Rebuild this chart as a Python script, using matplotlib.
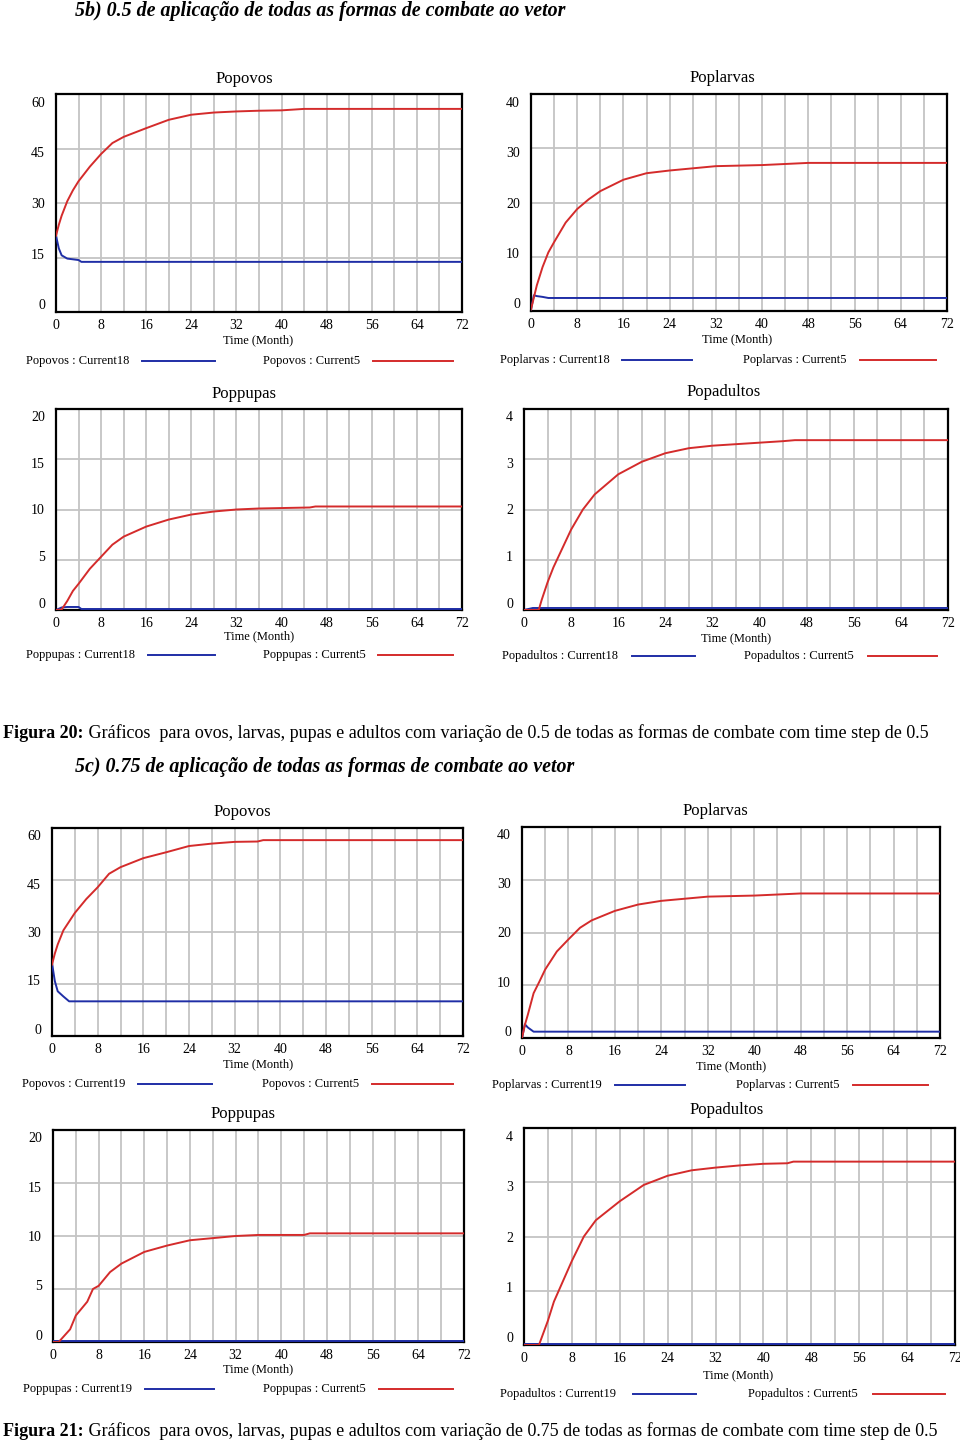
import matplotlib.pyplot as plt
from matplotlib.lines import Line2D

plt.rcParams['font.family'] = ['Liberation Serif', 'DejaVu Serif']

BLUE = '#1f2ea6'
RED = '#d42b2b'

# ---- data (time in months) ----
# figure 20 (Current18 vs Current5)
ovos18_t = [0, 0.5, 1, 2, 4, 4.5, 72]
ovos18_v = [21, 17.5, 15.6, 14.7, 14.3, 13.8, 13.8]
ovos5a_t = [0, 0.5, 1, 2, 3, 4, 6, 8, 10, 12, 16, 20, 24, 28, 32, 36, 40, 44, 72]
ovos5a_v = [21, 24, 26.5, 30.5, 33.5, 36, 40, 43.5, 46.5, 48.2, 50.6, 52.9, 54.3, 54.9, 55.2, 55.4, 55.5, 55.9, 55.9]

larvas18_t = [0, 0.5, 1, 2, 3, 72]
larvas18_v = [0.3, 2.9, 2.75, 2.6, 2.4, 2.4]
larvas5a_t = [0, 0.5, 1, 2, 3, 4, 6, 8, 10, 12, 16, 20, 24, 32, 40, 48, 72]
larvas5a_v = [0.3, 2.5, 4.7, 8.1, 10.8, 12.7, 16.3, 18.8, 20.6, 22.1, 24.2, 25.4, 25.9, 26.7, 26.9, 27.3, 27.3]

pupas18_t = [0, 1, 2, 4, 4.5, 72]
pupas18_v = [0, 0.25, 0.3, 0.3, 0.1, 0.1]
pupas5a_t = [0, 1, 2, 3, 4, 6, 8, 10, 12, 16, 20, 24, 28, 32, 36, 45, 46, 72]
pupas5a_v = [0, 0.05, 0.9, 1.9, 2.6, 4.1, 5.3, 6.5, 7.3, 8.3, 9.0, 9.5, 9.8, 10.0, 10.1, 10.2, 10.3, 10.3]

adultos18_t = [0, 1.5, 72]
adultos18_v = [0, 0.04, 0.04]
adultos5a_t = [0, 2.5, 3, 4, 5, 6, 8, 10, 12, 14, 16, 20, 24, 28, 32, 36, 40, 44, 46, 72]
adultos5a_v = [0, 0, 0.2, 0.55, 0.85, 1.1, 1.6, 2.0, 2.3, 2.5, 2.7, 2.95, 3.12, 3.22, 3.27, 3.3, 3.33, 3.36, 3.38, 3.38]

# figure 21 (Current19 vs Current5)
ovos19_t = [0, 0.5, 1, 2, 3, 72]
ovos19_v = [21, 15.8, 12.9, 11.4, 10, 10]
ovos5b_t = [0, 0.5, 1, 2, 3, 4, 6, 8, 10, 12, 16, 20, 24, 28, 32, 36, 37, 72]
ovos5b_v = [20.6, 23.8, 26.4, 30.5, 33, 35.5, 39.5, 42.9, 46.8, 48.7, 51.3, 53, 54.8, 55.5, 56, 56.1, 56.5, 56.5]

larvas19_t = [0, 0.5, 1, 2, 72]
larvas19_v = [0, 2.6, 2.0, 1.2, 1.2]
larvas5b_t = [0, 0.5, 1, 2, 3, 4, 6, 8, 10, 12, 16, 20, 24, 32, 40, 48, 72]
larvas5b_v = [0, 2.5, 4.4, 8.5, 10.7, 13, 16.4, 18.7, 20.9, 22.3, 24.1, 25.3, 26, 26.8, 27, 27.4, 27.4]

pupas19_t = [0, 72]
pupas19_v = [0.05, 0.05]
pupas5b_t = [0, 1, 2, 3, 4, 6, 7, 8, 10, 12, 16, 20, 24, 28, 32, 36, 44, 45, 72]
pupas5b_v = [0, 0, 0.6, 1.2, 2.5, 3.8, 5.0, 5.3, 6.6, 7.4, 8.5, 9.1, 9.6, 9.8, 10, 10.1, 10.1, 10.25, 10.25]

adultos19_t = [0, 72]
adultos19_v = [0.02, 0.02]
adultos5b_t = [0, 2.5, 3, 4, 5, 6, 8, 10, 12, 16, 20, 24, 28, 32, 36, 40, 44, 45, 72]
adultos5b_v = [0, 0, 0.15, 0.45, 0.8, 1.05, 1.55, 2.0, 2.3, 2.65, 2.95, 3.12, 3.22, 3.27, 3.31, 3.34, 3.35, 3.38, 3.38]

x_ticks = list(range(0, 73, 8))
ovos_ticks = [0, 15, 30, 45, 60]
larvas_ticks = [0, 10, 20, 30, 40]
pupas_ticks = [0, 5, 10, 15, 20]
adultos_ticks = [0, 1, 2, 3, 4]

W, H = 960, 1445
fig = plt.figure(figsize=(W / 100, H / 100), dpi=100)


def fx(x):
    return x / W


def fy(y):
    return 1 - y / H


def panel(box, blue, red, ticks, title, title_xy, xlab_xy, leg):
    l, t, r, b = box
    ax = fig.add_axes([fx(l), fy(b), (r - l) / W, (b - t) / H])
    ax.set_axisbelow(True)
    ax.plot(blue[0], blue[1], color=BLUE, lw=1.4, zorder=3)
    ax.plot(red[0], red[1], color=RED, lw=1.4, zorder=3)
    ax.set_xlim(0, 72)
    ax.set_ylim(0, ticks[-1])
    ax.set_xticks(x_ticks)
    ax.set_xticks(range(0, 73, 4), minor=True)
    ax.set_yticks(ticks)
    ax.set_yticklabels([])
    ax.tick_params(length=0, which='both', labelsize=10, pad=5)
    ax.grid(True, which='both', axis='x', color='#c4c4c4', lw=1.3)
    ax.grid(True, which='major', axis='y', color='#c4c4c4', lw=1.3)
    for s in ax.spines.values():
        s.set_linewidth(1.6)
        s.set_color('black')
    # Vensim squeezes the y labels slightly inside the frame
    for v in ticks:
        f = 0.028 + 0.93 * v / ticks[-1]
        ax.text(-11 / (r - l), f, str(v), transform=ax.transAxes,
                ha='right', va='center', fontsize=10)
    fig.text(fx(title_xy[0]), fy(title_xy[1]), title, ha='center', va='center', fontsize=12)
    fig.text(fx(xlab_xy[0]), fy(xlab_xy[1]), 'Time (Month)', ha='center', va='center', fontsize=9)
    (n1, tx1, a1, b1), (n2, tx2, a2, b2), ly = leg
    fig.text(fx(tx1), fy(ly), n1, ha='left', va='center', fontsize=9)
    fig.text(fx(tx2), fy(ly), n2, ha='left', va='center', fontsize=9)
    fig.add_artist(Line2D([fx(a1), fx(b1)], [fy(ly)] * 2, transform=fig.transFigure, color=BLUE, lw=1.4))
    fig.add_artist(Line2D([fx(a2), fx(b2)], [fy(ly)] * 2, transform=fig.transFigure, color=RED, lw=1.4))
    return ax


# figure 20 panels
panel((56, 94, 462, 312), (ovos18_t, ovos18_v), (ovos5a_t, ovos5a_v), ovos_ticks,
      'Popovos', (244, 79), (258, 340),
      (('Popovos : Current18', 26, 142, 215), ('Popovos : Current5', 263, 373, 453), 361))
panel((531, 94, 947, 311), (larvas18_t, larvas18_v), (larvas5a_t, larvas5a_v), larvas_ticks,
      'Poplarvas', (722, 78), (737, 339),
      (('Poplarvas : Current18', 500, 622, 692), ('Poplarvas : Current5', 743, 860, 936), 360))
panel((56, 409, 462, 610), (pupas18_t, pupas18_v), (pupas5a_t, pupas5a_v), pupas_ticks,
      'Poppupas', (244, 394), (259, 636),
      (('Poppupas : Current18', 26, 148, 215), ('Poppupas : Current5', 263, 378, 453), 655))
panel((524, 409, 948, 610), (adultos18_t, adultos18_v), (adultos5a_t, adultos5a_v), adultos_ticks,
      'Popadultos', (724, 392), (736, 638),
      (('Popadultos : Current18', 502, 632, 695), ('Popadultos : Current5', 744, 868, 937), 656))

# figure 21 panels
panel((52, 828, 463, 1036), (ovos19_t, ovos19_v), (ovos5b_t, ovos5b_v), ovos_ticks,
      'Popovos', (242, 812), (258, 1064),
      (('Popovos : Current19', 22, 138, 212), ('Popovos : Current5', 262, 372, 453), 1084))
panel((522, 827, 940, 1038), (larvas19_t, larvas19_v), (larvas5b_t, larvas5b_v), larvas_ticks,
      'Poplarvas', (715, 811), (731, 1066),
      (('Poplarvas : Current19', 492, 615, 685), ('Poplarvas : Current5', 736, 853, 928), 1085))
panel((53, 1130, 464, 1342), (pupas19_t, pupas19_v), (pupas5b_t, pupas5b_v), pupas_ticks,
      'Poppupas', (243, 1114), (258, 1369),
      (('Poppupas : Current19', 23, 145, 214), ('Poppupas : Current5', 263, 379, 453), 1389))
panel((524, 1128, 955, 1345), (adultos19_t, adultos19_v), (adultos5b_t, adultos5b_v), adultos_ticks,
      'Popadultos', (727, 1110), (738, 1375),
      (('Popadultos : Current19', 500, 633, 696), ('Popadultos : Current5', 748, 873, 945), 1394))

# headings and captions
fig.text(fx(75), fy(11), '5b) 0.5 de aplicação de todas as formas de combate ao vetor',
         fontsize=14.4, weight='bold', style='italic', va='center')
fig.text(fx(75), fy(767), '5c) 0.75 de aplicação de todas as formas de combate ao vetor',
         fontsize=14.4, weight='bold', style='italic', va='center')

renderer = fig.canvas.get_renderer()


def caption(y, bold, rest):
    t1 = fig.text(fx(3), fy(y), bold, fontsize=13, weight='bold', va='center')
    bb = t1.get_window_extent(renderer)
    fig.text(bb.x1 / W, fy(y), rest, fontsize=13, va='center')


caption(733, 'Figura 20:', ' Gráficos  para ovos, larvas, pupas e adultos com variação de 0.5 de todas as formas de combate com time step de 0.5')
caption(1431, 'Figura 21:', ' Gráficos  para ovos, larvas, pupas e adultos com variação de 0.75 de todas as formas de combate com time step de 0.5')

fig.savefig('out.png', dpi=100)
